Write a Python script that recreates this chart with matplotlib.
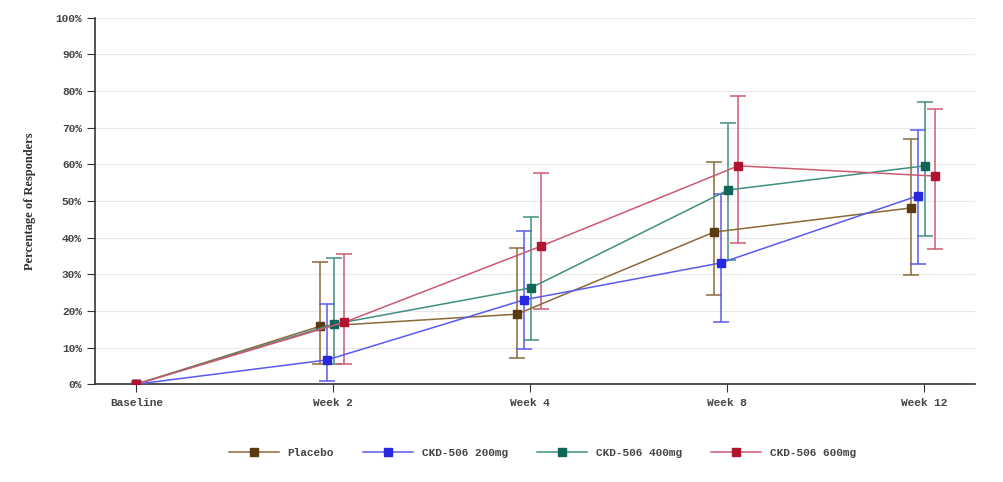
import numpy as np
import matplotlib
matplotlib.use("Agg")
import matplotlib.pyplot as plt
from matplotlib.ticker import FuncFormatter

visits = ["Baseline", "Week 2", "Week 4", "Week 8", "Week 12"]
groups = ["Placebo", "CKD-506 200mg", "CKD-506 400mg", "CKD-506 600mg"]

# percentage of responders and 95% CI limits (baseline has no CI)
placebo = [0, 15.8, 19.1, 41.5, 48.1]
placebo_lo = [0, 5.5, 7.1, 24.3, 29.8]
placebo_hi = [0, 33.3, 37.2, 60.7, 66.9]

mg200 = [0, 6.6, 23.0, 33.1, 51.4]
mg200_lo = [0, 0.8, 9.6, 17.0, 32.8]
mg200_hi = [0, 21.9, 41.8, 52.0, 69.4]

mg400 = [0, 16.4, 26.3, 53.0, 59.6]
mg400_lo = [0, 5.5, 12.0, 33.9, 40.4]
mg400_hi = [0, 34.4, 45.6, 71.3, 77.0]

mg600 = [0, 16.9, 37.7, 59.6, 56.8]
mg600_lo = [0, 5.5, 20.5, 38.5, 36.9]
mg600_hi = [0, 35.5, 57.6, 78.7, 75.1]

series = [
    (placebo, placebo_lo, placebo_hi, "#8a6a3a", "#5a3a0e", -0.068),
    (mg200, mg200_lo, mg200_hi, "#5a5af0", "#2828e0", -0.033),
    (mg400, mg400_lo, mg400_hi, "#3f8f80", "#0d6658", 0.004),
    (mg600, mg600_lo, mg600_hi, "#cc5a72", "#b0142e", 0.056),
]

fig = plt.figure(figsize=(10.04, 4.82), dpi=100)
ax = fig.add_axes([0.0946, 0.203, 0.877, 0.760])

mono = "Liberation Mono"
x = np.arange(len(visits))
handles = []
for (vals, lo, hi, lcol, mcol, off), name in zip(series, groups):
    xs = x + off
    xs[0] = 0
    v = np.array(vals)
    yerr = np.array([v - np.array(lo), np.array(hi) - v])
    ax.errorbar(xs[1:], v[1:], yerr=yerr[:, 1:], fmt="none", ecolor=lcol,
                elinewidth=1.1, capsize=5.5, capthick=1.1, zorder=2)
    h, = ax.plot(xs, v, color=lcol, lw=1.1, marker="s", markersize=6,
                 markerfacecolor=mcol, markeredgecolor=mcol, zorder=3,
                 label=name)
    handles.append(h)

ax.set_xlim(-0.21, 4.26)
ax.set_ylim(0, 100)
ax.set_yticks(np.arange(0, 101, 10))
ax.yaxis.set_major_formatter(FuncFormatter(lambda v, p: f"{v:.0f}%"))
ax.set_xticks(x)
ax.set_xticklabels(visits)
ax.grid(axis="y", color="#e8e8e8", lw=0.8)
ax.set_axisbelow(True)
for s in ["top", "right"]:
    ax.spines[s].set_visible(False)
for s in ["left", "bottom"]:
    ax.spines[s].set_color("#333333")
    ax.spines[s].set_linewidth(1.2)
ax.tick_params(axis="both", direction="out", length=6, color="#333333",
               labelsize=8, labelcolor="#444444")
for lab in ax.get_xticklabels() + ax.get_yticklabels():
    lab.set_family(mono)
    lab.set_fontweight("bold")
ax.tick_params(axis="x", pad=4)
ax.set_ylabel("Percentage of Responders", family="Liberation Serif",
              fontweight="bold", fontsize=9, color="#333333", labelpad=14)

fig.legend(handles=handles, loc="center", bbox_to_anchor=(0.54, 0.06),
           ncol=4, frameon=False, handlelength=4.5, columnspacing=2.6,
           prop={"family": mono, "size": 8, "weight": "bold"}, labelcolor="#444444")

fig.savefig("out.png", dpi=100)
